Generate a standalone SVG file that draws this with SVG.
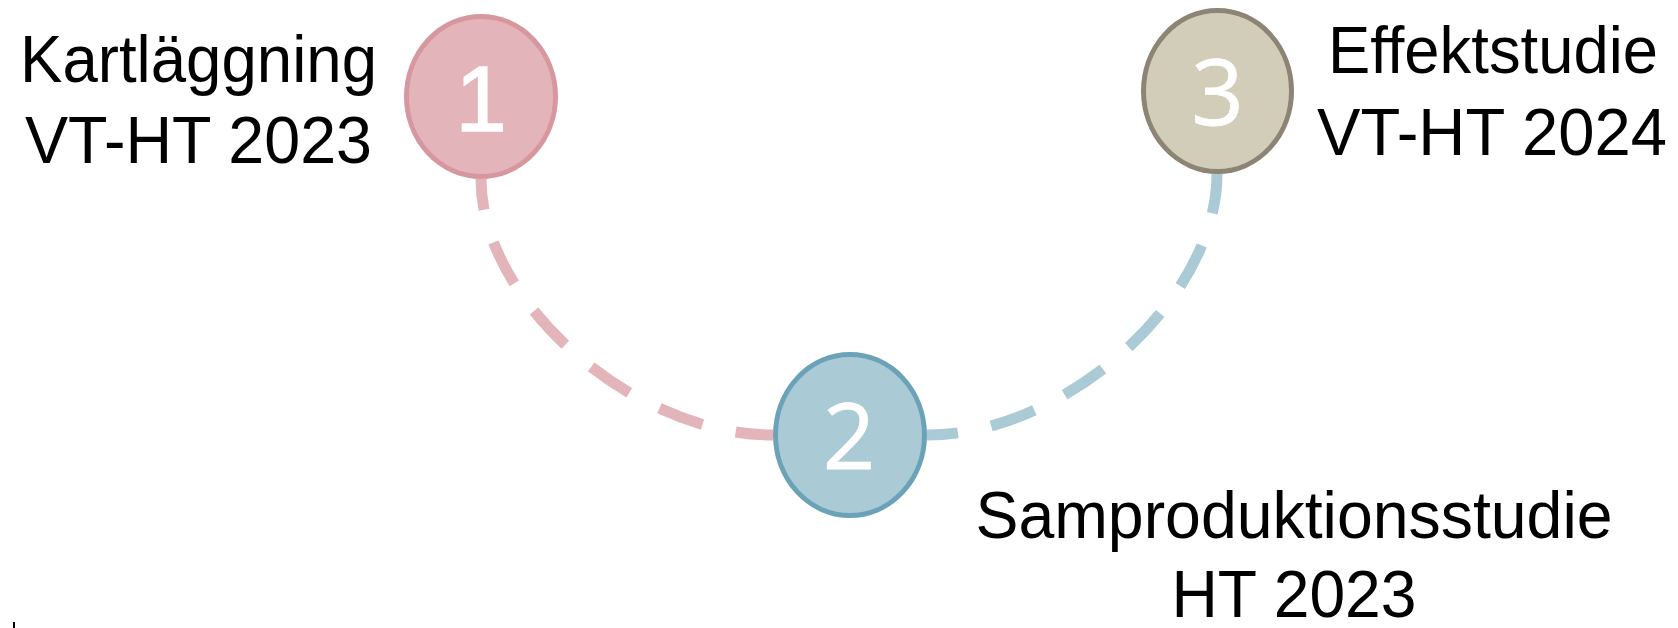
<svg xmlns="http://www.w3.org/2000/svg" width="1678" height="628" viewBox="0 0 1678 628">
<style>
.lbl{font-family:"Liberation Sans",Arial,sans-serif;font-size:66px;fill:#000;text-anchor:middle}
.num{font-family:"Open Sans","Liberation Sans",sans-serif;font-size:92px;fill:#fff;stroke:#fff;stroke-width:0.8;text-anchor:middle}
.num1{font-family:"Liberation Sans",Arial,sans-serif;font-size:92px;fill:#fff;stroke:#fff;stroke-width:1.5;text-anchor:middle}
.dash{fill:none;stroke-width:11;stroke-dasharray:46 34;stroke-dashoffset:15}
.node ellipse{stroke-width:5}
</style>
<rect width="1678" height="628" fill="#fff"/>
<g id="connectors">
  <path class="dash" stroke="#E3B5BB" d="M481,179 C481,302 633,435 773,435"/>
  <path class="dash" stroke="#AACAD6" d="M927,435 C1066,435 1217,299 1217,174"/>
</g>
<g id="node1" class="node">
  <ellipse cx="481" cy="96.5" rx="74.5" ry="80" fill="#E3B5BB" stroke="#D7979F"/>
  <text class="num1" x="481" y="131">1</text>
  <text class="lbl" x="198.5" y="82" textLength="357" lengthAdjust="spacingAndGlyphs">Kartläggning</text>
  <text class="lbl" x="198.5" y="163" textLength="347" lengthAdjust="spacingAndGlyphs">VT-HT 2023</text>
</g>
<g id="node2" class="node">
  <ellipse cx="850" cy="435" rx="74.5" ry="80.5" fill="#AACAD6" stroke="#6CA2B8"/>
  <text class="num" x="849" y="469">2</text>
  <text class="lbl" x="1294" y="538" textLength="637" lengthAdjust="spacingAndGlyphs">Samproduktionsstudie</text>
  <text class="lbl" x="1294" y="617" textLength="245" lengthAdjust="spacingAndGlyphs">HT 2023</text>
</g>
<g id="node3" class="node">
  <ellipse cx="1217.5" cy="91" rx="74" ry="80.5" fill="#D2CDB8" stroke="#8C8474"/>
  <text class="num" x="1217.5" y="125">3</text>
  <text class="lbl" x="1493" y="73" textLength="330" lengthAdjust="spacingAndGlyphs">Effektstudie</text>
  <text class="lbl" x="1492" y="155" textLength="350" lengthAdjust="spacingAndGlyphs">VT-HT 2024</text>
</g>
<line x1="14" y1="622" x2="14" y2="628" stroke="#000" stroke-width="2"/>
</svg>
